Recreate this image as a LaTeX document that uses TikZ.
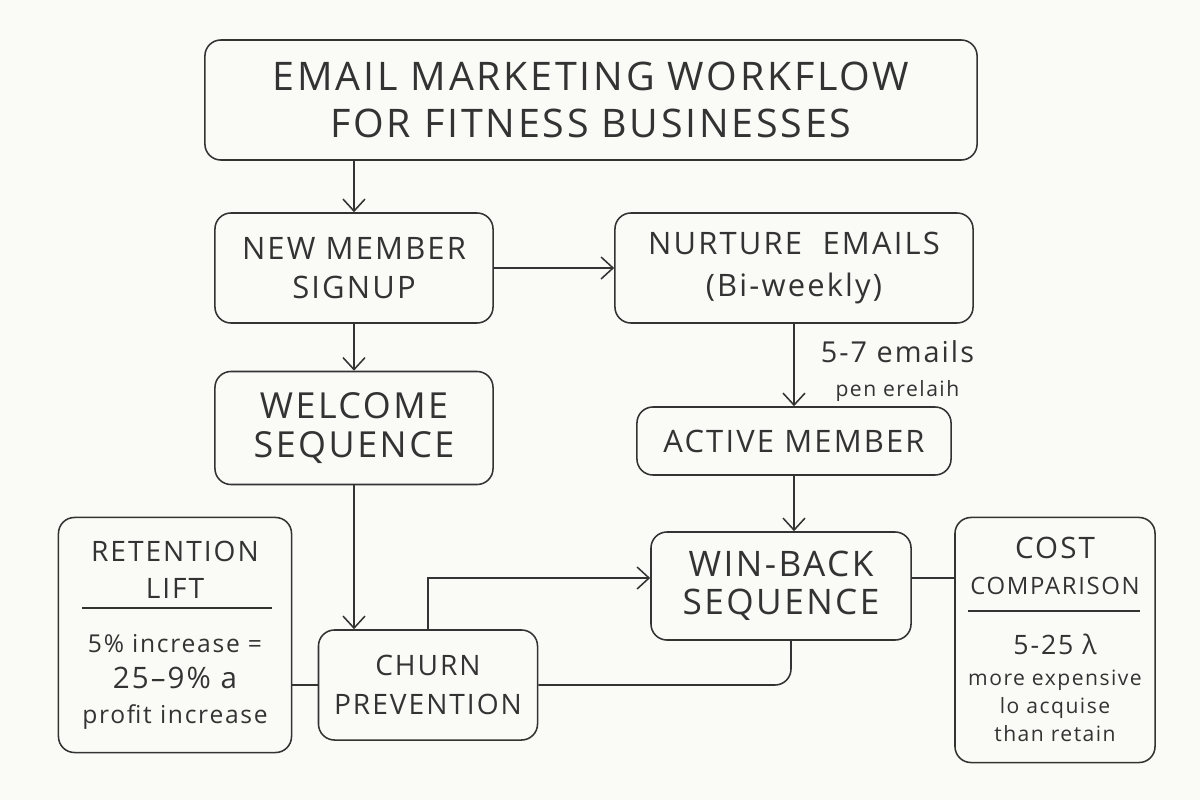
\documentclass[tikz,border=0pt]{standalone}
\usepackage{fontspec}
\setmainfont{Open Sans}[LetterSpace=7]
\usetikzlibrary{arrows.meta,positioning,calc}
\definecolor{ink}{HTML}{333333}
\definecolor{paper}{HTML}{FAFAF7}
\newcommand{\fsz}[2]{\fontsize{#1}{#2}\selectfont}

\begin{document}
\begin{tikzpicture}[x=0.025cm,y=-0.025cm,box/.style={draw=ink,line width=1.1pt,rounded corners=4mm,align=center,text=ink,inner sep=0pt},arr/.style={-{Straight Barb[length=3mm,width=5.5mm]},line width=1.1pt,draw=ink},link/.style={line width=1.1pt,draw=ink,rounded corners=4mm},txt/.style={align=center,text=ink,inner sep=0pt}]
\fill[paper] (0,0) rectangle (1200,800);
% main flow
\node[box,minimum width=19.3cm,minimum height=3cm,font=\fsz{28}{34}] (title) at (591,100) {EMAIL MARKETING WORKFLOW\\FOR FITNESS BUSINESSES};
\node[box,minimum width=6.95cm,minimum height=2.75cm,font=\fsz{22}{28}] (signup) at (354,268) {NEW MEMBER\\SIGNUP};
\node[box,minimum width=8.95cm,minimum height=2.75cm,font=\fsz{22}{30}] (nurture) at (794,268) {NURTURE~ EMAILS\\(Bi-weekly)};
\node[box,minimum width=6.95cm,minimum height=2.825cm,font=\fsz{25.5}{28}] (welcome) at (354,428) {WELCOME\\SEQUENCE};
\node[box,minimum width=7.85cm,minimum height=1.7cm,font=\fsz{22}{24}] (active) at (794,441) {ACTIVE MEMBER};
\node[box,minimum width=6.5cm,minimum height=2.7cm,font=\fsz{25}{27}] (winback) at (781,586) {WIN-BACK\\SEQUENCE};
\node[box,minimum width=5.475cm,minimum height=2.75cm,font=\fsz{20}{28}] (churn) at (428,685) {CHURN\\PREVENTION};
% side notes
\node[box,minimum width=5.825cm,minimum height=5.875cm] (retention) at (175,635) {};
\node[txt,font=\fsz{20}{26}] (rethead) at (175,570) {RETENTION\\LIFT};
\node[txt,font=\fsz{17.5}{25}] (retbody) at (175,682) {5\% increase =\\{\fsz{21}{25}25–9\% a}\\profit increase};
\draw[ink,line width=0.9pt] (82,608) -- (272,608);
\node[box,minimum width=5cm,minimum height=6.125cm] (cost) at (1055,640) {};
\node[txt,font=\fsz{17}{26}] (costhead) at (1055,566) {{\fsz{21}{26}COST}\\COMPARISON};
\node[txt,font=\fsz{15}{20}] (costbody) at (1055,688) {{\fsz{19}{24}5-25 λ}\\[2pt]more expensive\\lo acquise\\than retain};
\draw[ink,line width=0.9pt] (968,611) -- (1140,611);
% connectors
\draw[arr] (title.south -| signup.north) -- (signup.north);
\draw[arr] (signup.east) -- (nurture.west);
\draw[arr] (signup.south) -- (welcome.north);
\draw[arr] (nurture.south) -- node[right=6.5mm,yshift=-1.5mm,txt,font=\fsz{20.5}{24}] (cadence) {5-7 emails\\{\fsz{15}{18}pen erelaih}} (active.north);
\draw[arr] (active.south) -- (active.south |- winback.north);
\draw[arr] (welcome.south) -- (welcome.south |- churn.north);
\draw[arr] (churn.north) |- ([yshift=0.2cm]winback.west);
\draw[link] ([xshift=0.25cm]winback.south) |- (churn.east);
\draw[link] (churn.west -| retention.east) -- (churn.west);
\draw[link] ([yshift=0.2cm]winback.east) -- ([yshift=0.2cm]winback.east -| cost.west);
\end{tikzpicture}
\end{document}
